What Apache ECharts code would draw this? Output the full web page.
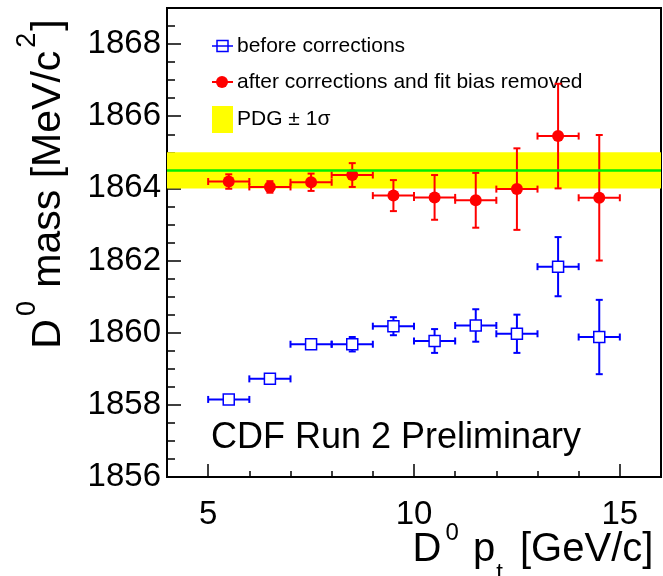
<!DOCTYPE html>
<html><head><meta charset="utf-8">
<script src="https://cdn.jsdelivr.net/npm/echarts@6/dist/echarts.min.js"></script>
<style>html,body{margin:0;padding:0;background:#fff}#c{width:663px;height:576px}</style>
</head><body><div id="c"></div>
<script>
// ---- data ----
const ptCenters   = [5.5, 6.5, 7.5, 8.5, 9.5, 10.5, 11.5, 12.5, 13.5, 14.5];
const ptHalfWidth = [0.5, 0.5, 0.5, 0.5, 0.5, 0.5, 0.5, 0.5, 0.5, 0.5];
const massBefore    = [1858.15, 1858.72, 1859.68, 1859.68, 1860.18, 1859.77, 1860.20, 1859.97, 1861.83, 1859.88];
const massBeforeErr = [0.08, 0.08, 0.10, 0.20, 0.25, 0.33, 0.45, 0.53, 0.82, 1.03];
const massAfter     = [1864.19, 1864.04, 1864.17, 1864.37, 1863.80, 1863.75, 1863.67, 1863.98, 1865.45, 1863.74];
const massAfterErr  = [0.20, 0.16, 0.24, 0.33, 0.43, 0.62, 0.76, 1.13, 1.45, 1.74];
const pdgMass  = 1864.5;
const pdgSigma = 0.5;
const xTickLabels = [5, 10, 15];
const xMinorTicks = [4, 6, 7, 8, 9, 11, 12, 13, 14, 16];
const yTickLabels = [1856, 1858, 1860, 1862, 1864, 1866, 1868];
const yMinorTicks = [1856.5, 1857, 1857.5, 1858.5, 1859, 1859.5, 1860.5, 1861, 1861.5, 1862.5, 1863, 1863.5,
                     1864.5, 1865, 1865.5, 1866.5, 1867, 1867.5, 1868.5];
const legendLabels = ['before corrections', 'after corrections and fit bias removed', 'PDG \u00b1 1\u03c3'];
const watermark = 'CDF Run 2 Preliminary';

// ---- chart ----
const FONT = '"Liberation Sans", Arial, Helvetica, sans-serif';
const BLUE = '#0000ff', RED = '#ff0000';
const chart = echarts.init(document.getElementById('c'), null, {renderer: 'canvas'});

function errorBars(color) {
  return function (params, api) {
    const x = api.value(0), y = api.value(1), ex = api.value(2), ey = api.value(3);
    const l = api.coord([x - ex, y]), r = api.coord([x + ex, y]);
    const t = api.coord([x, y + ey]), b = api.coord([x, y - ey]);
    const cap = 3.5;
    const style = {stroke: color, lineWidth: 2};
    return {type: 'group', children: [
      {type: 'line', shape: {x1: l[0], y1: l[1], x2: r[0], y2: r[1]}, style},
      {type: 'line', shape: {x1: t[0], y1: t[1], x2: b[0], y2: b[1]}, style},
      {type: 'line', shape: {x1: l[0], y1: l[1] - cap, x2: l[0], y2: l[1] + cap}, style},
      {type: 'line', shape: {x1: r[0], y1: r[1] - cap, x2: r[0], y2: r[1] + cap}, style},
      {type: 'line', shape: {x1: t[0] - cap, y1: t[1], x2: t[0] + cap, y2: t[1]}, style},
      {type: 'line', shape: {x1: b[0] - cap, y1: b[1], x2: b[0] + cap, y2: b[1]}, style}
    ]};
  };
}

const beforeBars = ptCenters.map((x, i) => [x, massBefore[i], ptHalfWidth[i], massBeforeErr[i]]);
const afterBars  = ptCenters.map((x, i) => [x, massAfter[i], ptHalfWidth[i], massAfterErr[i]]);
const beforePts  = ptCenters.map((x, i) => [x, massBefore[i]]);
const afterPts   = ptCenters.map((x, i) => [x, massAfter[i]]);

const option = {
  animation: false,
  backgroundColor: '#fff',
  grid: {left: 167, right: 2, top: 8, bottom: 99, show: true, borderColor: '#000', borderWidth: 2,
         backgroundColor: 'transparent', containLabel: false, outerBoundsMode: 'none'},
  xAxis: [{
    type: 'value', min: 4, max: 16, interval: 1,
    axisLine: {show: false},
    splitLine: {show: false},
    axisTick: {show: true, inside: true, length: 13, customValues: xTickLabels, lineStyle: {color: '#000', width: 1.5}},
    axisLabel: {customValues: xTickLabels, fontSize: 33, fontFamily: FONT, color: '#000', margin: 21,
      formatter: v => String(v)},
    name: '{b|D}{s|0}{b| p}{t|t}{b| [GeV/c]}',
    nameLocation: 'middle', nameGap: 44, nameMoveOverlap: false,
    nameTextStyle: {
      fontFamily: FONT, color: '#000', align: 'center', padding: [0, 0, 0, 238],
      rich: {
        b: {fontSize: 40, fontFamily: FONT, color: '#000', lineHeight: 40, padding: [9, 0, 0, 0], verticalAlign: 'top'},
        s: {fontSize: 24, fontFamily: FONT, color: '#000', lineHeight: 24, padding: [0, 3, 0, 4], verticalAlign: 'top'},
        t: {fontSize: 24, fontFamily: FONT, color: '#000', lineHeight: 24, padding: [40, 6, 0, 1], verticalAlign: 'top'}
      }
    }
  }, {
    type: 'value', min: 4, max: 16, interval: 1, position: 'bottom',
    axisLine: {show: false}, splitLine: {show: false}, axisLabel: {show: false},
    axisTick: {show: true, inside: true, length: 6, customValues: xMinorTicks, lineStyle: {color: '#000', width: 1.5}}
  }],
  yAxis: [{
    type: 'value', min: 1856, max: 1869, interval: 2,
    axisLine: {show: false},
    splitLine: {show: false},
    axisTick: {show: true, inside: true, length: 14, customValues: yTickLabels, lineStyle: {color: '#000', width: 1.5}},
    axisLabel: {customValues: yTickLabels, fontSize: 33, fontFamily: FONT, color: '#000', margin: 6,
      formatter: v => String(v)},
    name: '{b|D}{s|0}{b| mass [MeV/c}{s|2}{b|]}',
    nameLocation: 'middle', nameGap: 112, nameRotate: 90, nameMoveOverlap: false,
    nameTextStyle: {
      fontFamily: FONT, color: '#000', align: 'center', padding: [0, 0, 0, 117],
      rich: {
        b: {fontSize: 41, fontFamily: FONT, color: '#000', lineHeight: 41, padding: [14, 0, 0, 0], verticalAlign: 'top'},
        s: {fontSize: 27, fontFamily: FONT, color: '#000', lineHeight: 27, padding: [0, 2, 0, 3], verticalAlign: 'top'}
      }
    }
  }, {
    type: 'value', min: 1856, max: 1869, interval: 2, position: 'left',
    axisLine: {show: false}, splitLine: {show: false}, axisLabel: {show: false},
    axisTick: {show: true, inside: true, length: 8, customValues: yMinorTicks, lineStyle: {color: '#000', width: 1.5}}
  }],
  series: [{
    name: 'PDG', type: 'line', data: [], z: 1, silent: true,
    markArea: {silent: true, itemStyle: {color: '#ffff00', opacity: 1},
      data: [[{yAxis: pdgMass - pdgSigma}, {yAxis: pdgMass + pdgSigma}]]},
    markLine: {silent: true, symbol: ['none', 'none'], label: {show: false},
      lineStyle: {color: '#00ee00', width: 2.5, type: 'solid'},
      data: [{yAxis: pdgMass}]}
  }, {
    name: 'before bars', type: 'custom', renderItem: errorBars(BLUE), data: beforeBars,
    encode: {x: 0, y: 1}, z: 3, silent: true
  }, {
    name: 'after bars', type: 'custom', renderItem: errorBars(RED), data: afterBars,
    encode: {x: 0, y: 1}, z: 3, silent: true
  }, {
    name: 'before corrections', type: 'scatter', data: beforePts, z: 4,
    symbol: 'rect', symbolSize: 11,
    itemStyle: {color: '#fff', borderColor: BLUE, borderWidth: 1.5, opacity: 1}
  }, {
    name: 'after corrections', type: 'scatter', data: afterPts, z: 4,
    symbol: 'circle', symbolSize: 12,
    itemStyle: {color: RED, opacity: 1}
  }],
  graphic: [
    {type: 'line', shape: {x1: 212, y1: 46, x2: 233, y2: 46}, style: {stroke: BLUE, lineWidth: 1.5}},
    {type: 'rect', shape: {x: 217, y: 40.5, width: 11, height: 11}, style: {fill: 'none', stroke: BLUE, lineWidth: 1.5}},
    {type: 'line', shape: {x1: 212, y1: 82, x2: 233, y2: 82}, style: {stroke: RED, lineWidth: 2}},
    {type: 'circle', shape: {cx: 222, cy: 82, r: 6}, style: {fill: RED}},
    {type: 'rect', shape: {x: 212, y: 106, width: 21, height: 27}, style: {fill: '#ffff00'}},
    {type: 'text', x: 237, y: 46, style: {text: legendLabels[0], font: '21px ' + FONT, fill: '#000', verticalAlign: 'middle'}},
    {type: 'text', x: 237, y: 82, style: {text: legendLabels[1], font: '21px ' + FONT, fill: '#000', verticalAlign: 'middle'}},
    {type: 'text', x: 237, y: 119, style: {text: legendLabels[2], font: '21px ' + FONT, fill: '#000', verticalAlign: 'middle'}},
    {type: 'text', x: 211, y: 438, style: {text: watermark, font: '36px ' + FONT, fill: '#000', verticalAlign: 'middle'}}
  ]
};
chart.setOption(option);
</script>
</body></html>
